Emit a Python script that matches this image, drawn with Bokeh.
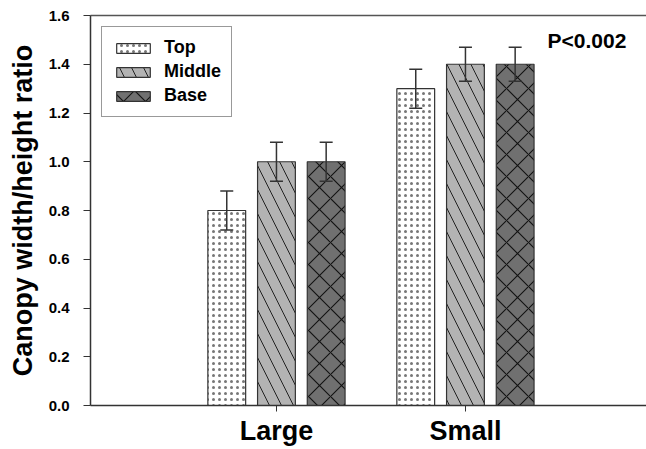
from bokeh.plotting import figure
from bokeh.models import (ColumnDataSource, Whisker, TeeHead, FixedTicker, Range1d,
                          Legend, LegendItem, Label, LinearAxis, CustomJSTickFormatter)
from bokeh.embed import file_html
from bokeh.resources import INLINE

groups = ["Large", "Small"]
series = ["Top", "Middle", "Base"]
top_vals = [0.8, 1.3]
middle_vals = [1.0, 1.4]
base_vals = [1.0, 1.4]
top_err = [0.08, 0.08]
middle_err = [0.08, 0.07]
base_err = [0.08, 0.07]
y_ticks = [0.0, 0.2, 0.4, 0.6, 0.8, 1.0, 1.2, 1.4, 1.6]

FONT = "Liberation Sans"
group_pos = [1, 2]
offsets = [-0.263, 0.0, 0.263]
bar_w = 0.2

p = figure(width=646, height=449, output_backend="svg", toolbar_location=None,
           x_range=Range1d(0.016, 2.958), y_range=Range1d(0, 1.6),
           min_border_left=90, min_border_right=0, min_border_top=15, min_border_bottom=44)
p.outline_line_color = None
p.grid.visible = False
p.background_fill_color = "white"

styles = [
    dict(fill_color="white", hatch_pattern="dot", hatch_scale=6, hatch_weight=0.8, hatch_color="#777777"),
    dict(fill_color="#b3b3b3", hatch_pattern="left_diagonal_line", hatch_scale=24, hatch_weight=1.0, hatch_color="#222222"),
    dict(fill_color="#707070", hatch_pattern="diagonal_cross", hatch_scale=22, hatch_weight=1.1, hatch_color="#111111"),
]
vals = [top_vals, middle_vals, base_vals]
errs = [top_err, middle_err, base_err]

renderers = []
for i, name in enumerate(series):
    xs = [g + offsets[i] for g in group_pos]
    src = ColumnDataSource(dict(x=xs, top=vals[i],
                                upper=[v + e for v, e in zip(vals[i], errs[i])],
                                lower=[v - e for v, e in zip(vals[i], errs[i])]))
    r = p.vbar(x="x", top="top", width=bar_w, source=src, line_color="#333333", line_width=1.2, **styles[i])
    renderers.append(r)
    w = Whisker(base="x", upper="upper", lower="lower", source=src, level="overlay",
                line_color="#333333", line_width=1.5,
                upper_head=TeeHead(size=13, line_color="#333333", line_width=1.5),
                lower_head=TeeHead(size=13, line_color="#333333", line_width=1.5))
    p.add_layout(w)

# axes
p.xaxis.ticker = FixedTicker(ticks=group_pos)
p.xaxis.major_label_overrides = {1: groups[0], 2: groups[1]}
p.xaxis.major_label_text_font = FONT
p.xaxis.major_label_text_font_style = "bold"
p.xaxis.major_label_text_font_size = "27px"
p.xaxis.major_label_text_color = "black"
p.xaxis.major_label_text_line_height = 0.9
p.xaxis.major_label_standoff = 4
p.xaxis.minor_tick_line_color = None
p.xaxis.major_tick_in = 0
p.xaxis.major_tick_out = 6
p.xaxis.axis_line_color = "#333333"
p.xaxis.axis_line_width = 1.5
p.xaxis.major_tick_line_color = "#333333"

p.yaxis.ticker = FixedTicker(ticks=y_ticks)
p.yaxis.formatter = CustomJSTickFormatter(code="return tick.toFixed(1);")
p.yaxis.major_label_text_font = FONT
p.yaxis.major_label_text_font_style = "bold"
p.yaxis.major_label_text_font_size = "15px"
p.yaxis.major_label_text_color = "black"
p.yaxis.minor_tick_line_color = None
p.yaxis.major_tick_in = 0
p.yaxis.major_tick_out = 7
p.yaxis.major_label_standoff = 14
p.yaxis.axis_line_color = "#333333"
p.yaxis.axis_line_width = 1.5
p.yaxis.major_tick_line_color = "#333333"
p.yaxis.axis_label = "Canopy width/height ratio"
p.yaxis.axis_label_text_font = FONT
p.yaxis.axis_label_text_font_style = "bold"
p.yaxis.axis_label_text_font_size = "27px"
p.yaxis.axis_label_text_color = "black"
p.yaxis.axis_label_standoff = 8

top_axis = LinearAxis(ticker=FixedTicker(ticks=[]), major_label_text_font_size="0px",
                      major_tick_line_color=None, minor_tick_line_color=None,
                      major_tick_out=0, major_label_standoff=0,
                      axis_line_color="#555555", axis_line_width=1.5)
p.add_layout(top_axis, "above")

legend = Legend(items=[LegendItem(label=series[i], renderers=[renderers[i]]) for i in range(3)],
                location="top_left")
legend.margin = 11
legend.padding = 10
legend.spacing = 3
legend.glyph_width = 42
legend.glyph_height = 12
legend.label_height = 20
legend.label_text_font = FONT
legend.label_text_font_style = "bold"
legend.label_text_font_size = "18px"
legend.label_text_color = "black"
legend.label_standoff = 10
legend.border_line_color = "#333333"
legend.border_line_width = 1.2
legend.background_fill_alpha = 1
p.add_layout(legend)

p.add_layout(Label(x=547 - 90, y=354, x_units="screen", y_units="screen",
                   text="P<0.002", text_font=FONT, text_font_style="bold",
                   text_font_size="21px", text_color="black"))

open("out.html", "w").write(file_html(p, INLINE))
